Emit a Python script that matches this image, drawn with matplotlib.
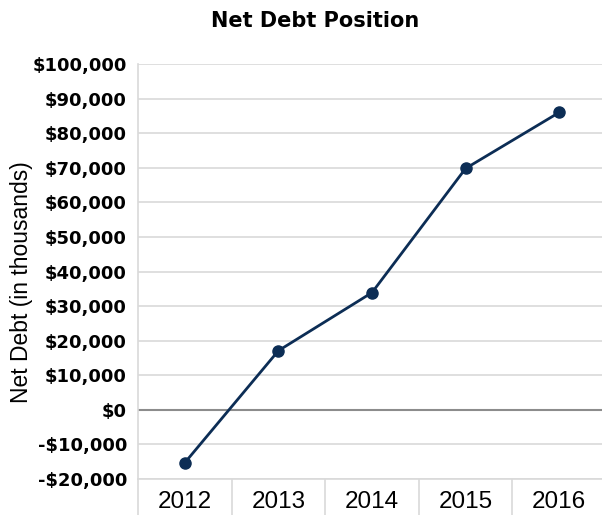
import numpy as np
import matplotlib.pyplot as plt
from matplotlib.ticker import FuncFormatter, MultipleLocator, FixedLocator

years = ['2012', '2013', '2014', '2015', '2016']
net_debt = [-15300, 17100, 33900, 69800, 86000]

line_color = '#0c2d55'
grid_color = '#d9d9d9'

fig = plt.figure(figsize=(6.02, 5.15), dpi=100)
ax = fig.add_axes([138 / 602, 1 - 479 / 515, 468 / 602, 415 / 515])

x = np.arange(len(years))
ax.plot(x, net_debt, color=line_color, lw=2, marker='o', ms=8, zorder=3)

ax.set_xlim(-0.5, len(years) - 0.5)
ax.set_ylim(-20000, 100000)
ax.yaxis.set_major_locator(MultipleLocator(10000))


def money(v, pos):
    if v < 0:
        return '-${:,.0f}'.format(-v)
    return '${:,.0f}'.format(v)


ax.yaxis.set_major_formatter(FuncFormatter(money))
ax.grid(axis='y', color=grid_color, lw=1.2)
ax.axhline(0, color='#8c8c8c', lw=1.5, zorder=2)

ax.set_xticks(x)
ax.set_xticklabels(years, fontsize=17.5, family='Liberation Sans')
ax.xaxis.set_minor_locator(FixedLocator(np.arange(-0.5, len(years), 1)))
ax.tick_params(axis='x', which='major', length=0, pad=9)
ax.tick_params(axis='x', which='minor', length=40, color=grid_color, width=1.2)
ax.tick_params(axis='y', length=0, pad=8)
for lab in ax.get_yticklabels():
    lab.set_fontsize(13)
    lab.set_fontweight('bold')
    lab.set_family('DejaVu Sans')

for s in ['top', 'right']:
    ax.spines[s].set_visible(False)
ax.spines['left'].set_color(grid_color)
ax.spines['bottom'].set_color(grid_color)
ax.spines['left'].set_linewidth(1.2)
ax.spines['bottom'].set_linewidth(1.2)

ax.set_ylabel('Net Debt (in thousands)', fontsize=16.5, family='Liberation Sans')
ax.yaxis.set_label_coords(-0.2244, 0.475)
fig.text(315 / 602, 1 - 21 / 515, 'Net Debt Position', ha='center', va='center',
         fontsize=15, fontweight='bold', family='DejaVu Sans')

fig.savefig('out.png', dpi=100)
